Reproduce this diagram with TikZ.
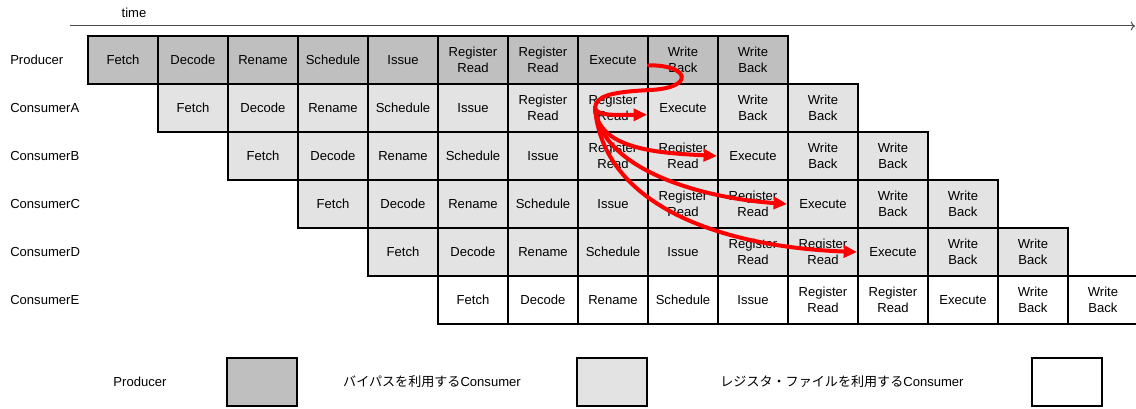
\documentclass[tikz,border=0pt]{standalone}
\usepackage{fontspec}
\setmainfont{Liberation Sans}
\newfontfamily\jpfont{Noto Sans CJK JP}
\usetikzlibrary{arrows.meta,positioning}
\definecolor{prodgray}{gray}{0.75}
\definecolor{consgray}{gray}{0.89}
\tikzset{
  every picture/.style = {
    x = 0.75pt,
    y = -0.75pt,
    font = \fontsize{9.8}{12}\selectfont,
  }
  ,
  stage/.style = {
    rectangle,
    draw,
    line width = 1.5pt,
    align = center,
    inner sep = 0pt,
    minimum width = 52.5pt,
    minimum height = 36pt
  }
  , % fill of the rows
  producer/.style = {stage, fill = prodgray},
  bypass/.style = {stage, fill = consgray},
  regfile/.style = {stage, fill = white},
  % labels of rows
  label-row/.style = {
    anchor = west,
    inner sep = 0pt
  }
  , % forwarding of the result
  forward/.style = {
    draw = red,
    line width = 3pt,
    line cap = round,
    -{Triangle[length=10pt,width=9pt]}
  }
}

\begin{document}
\begin{tikzpicture}
\useasboundingbox (0,0) rectangle (1136,409);

\node (time) at (134,13) {time};
\coordinate (t-start) at (70,26);
\coordinate (t-end) at (1135,26);
\draw[->, gray!60!black, line width = 0.75pt] (t-start) -- (t-end);

\foreach \r/\name/\kind [count=\i from 0] in {P/Producer/producer, A/ConsumerA/bypass, B/ConsumerB/bypass, C/ConsumerC/bypass, D/ConsumerD/bypass, E/ConsumerE/regfile} {
  \node [label-row] (\r-name) at (10, 60+48*\i) {\name};
  \foreach \s [count=\j] in {Fetch, Decode, Rename, Schedule, Issue, Register\\Read, Register\\Read, Execute, Write\\Back, Write\\Back} {
    \node [\kind] (\r-\j) at (123+70*\i+70*\j-70, 60+48*\i) {\s};
  }
}

\coordinate (fork) at (595,108);
\draw[forward, -] ([yshift=-4pt]P-8.east) .. controls (690,65) and (695,88) .. (650,90)
  .. controls (610,92) and (596,96) .. (fork);
\draw[forward] (fork) .. controls (597,116) and (615,115) .. ([yshift=-5pt]A-8.west);
\draw[forward] (fork) .. controls (598,150) and (660,153) .. (B-8.west);
\draw[forward] (fork) .. controls (600,165) and (690,197) .. (C-8.west);
\draw[forward] (fork) .. controls (603,205) and (720,247) .. (D-8.west);

% legend
\node (key-P-text) at (140,382) {Producer};
\node [producer] (key-P) at (262,382) {};
\node (key-A-text) at (432,382) {{\jpfont バイパスを利用する}Consumer};
\node [bypass] (key-A) at (612,382) {};
\node (key-E-text) at (842,382) {{\jpfont レジスタ・ファイルを利用する}Consumer};
\node [regfile] (key-E) at (1067,382) {};
\end{tikzpicture}
\end{document}
